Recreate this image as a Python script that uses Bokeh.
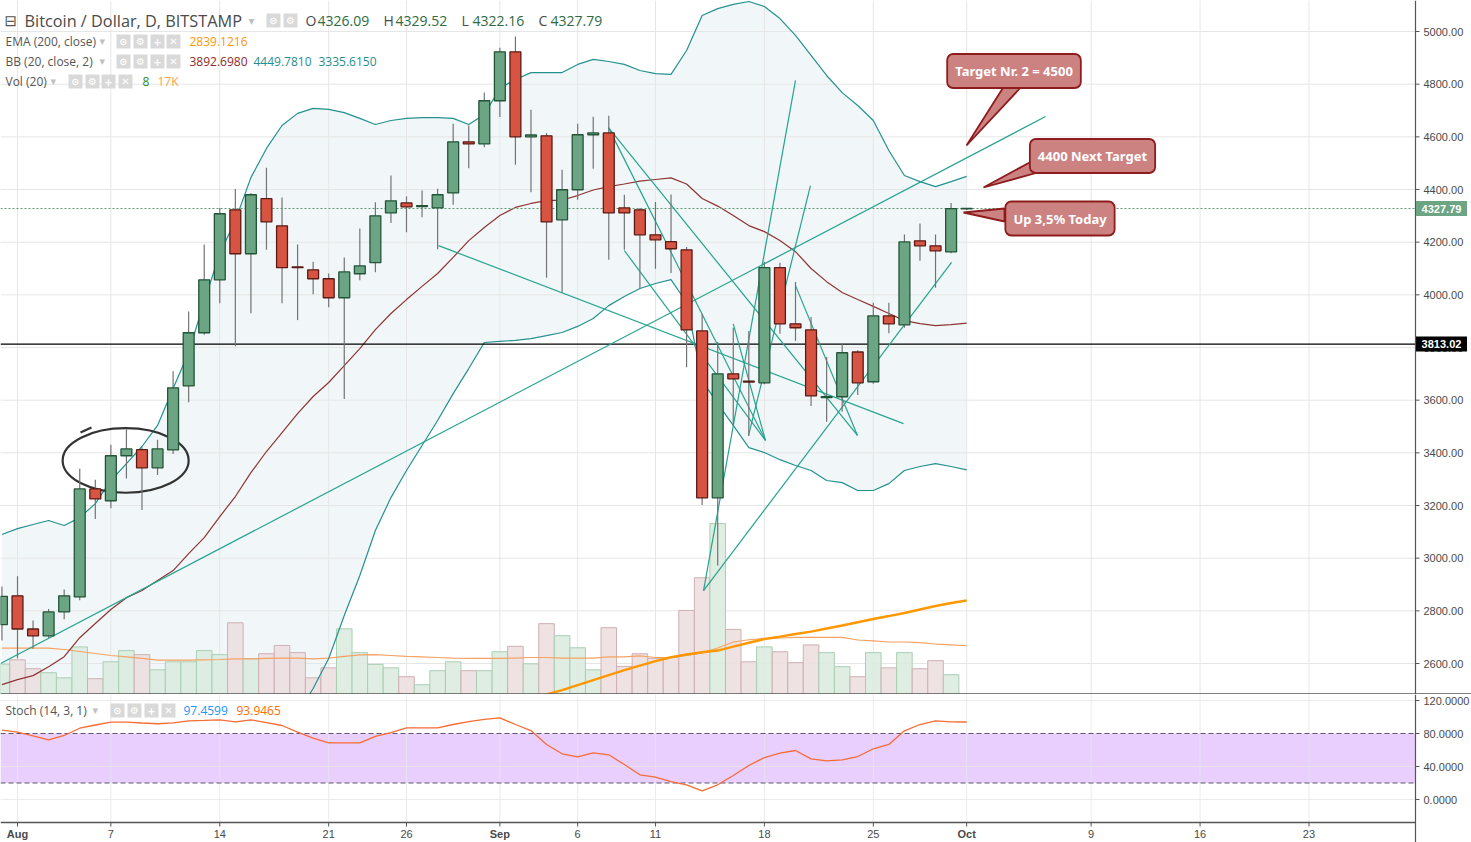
import numpy as np
import pandas as pd
from bokeh.plotting import figure
from bokeh.layouts import column
from bokeh.models import Range1d, Label
from bokeh.core.properties import value
from bokeh.embed import file_html
from bokeh.resources import INLINE

# ---------------- data ----------------
dates = pd.date_range("2017-07-31", "2017-10-01", freq="D")
opens = [2748, 2857, 2731, 2705, 2796, 2853, 3263, 3218, 3389, 3412, 3343, 3411, 3654, 3856, 4057, 4323,
         4156, 4365, 4262, 4106, 4095, 4061, 3989, 4080, 4122, 4311, 4349, 4335, 4330, 4387, 4581, 4573,
         4737, 4923, 4600, 4604, 4285, 4399, 4608, 4615, 4330, 4323, 4228, 4202, 4171, 3863, 3229, 3700,
         3672, 3666, 4103, 3890, 3867, 3610, 3613, 3783, 3670, 3920, 3886, 4205, 4186, 4163, 4326.09]
highs = [2892, 2931, 2763, 2807, 2881, 3340, 3298, 3431, 3491, 3420, 3450, 3710, 3937, 4191, 4330, 4402,
         4386, 4483, 4370, 4191, 4126, 4081, 4142, 4252, 4352, 4453, 4373, 4396, 4403, 4650, 4643, 4768,
         4938, 4981, 4703, 4615, 4475, 4650, 4676, 4680, 4380, 4330, 4353, 4381, 4182, 3927, 3821, 3875,
         3863, 4125, 4122, 4049, 3916, 3764, 3814, 3790, 3970, 3970, 4229, 4271, 4229, 4349, 4329.52]
lows = [2687, 2620, 2656, 2698, 2768, 2840, 3149, 3190, 3303, 3183, 3316, 3396, 3592, 3848, 3968, 3805,
        3930, 4171, 3968, 3904, 4002, 3953, 3604, 4055, 4086, 4273, 4238, 4295, 4173, 4342, 4481, 4560,
        4675, 4494, 4390, 4065, 4008, 4361, 4479, 4133, 4171, 4023, 4099, 4083, 3725, 3202, 2972, 3502,
        3464, 3660, 3852, 3825, 3578, 3518, 3556, 3620, 3662, 3854, 3875, 4129, 4027, 4158, 4322.16]
closes = [2855, 2731, 2705, 2796, 2857, 3263, 3225, 3389, 3415, 3343, 3415, 3647, 3856, 4057, 4308, 4156,
          4380, 4277, 4103, 4103, 4061, 3989, 4087, 4110, 4300, 4357, 4334, 4339, 4380, 4581, 4573, 4737,
          4923, 4600, 4607, 4277, 4399, 4608, 4615, 4311, 4311, 4228, 4209, 4175, 3867, 3229, 3700, 3681,
          3669, 4103, 3890, 3875, 3616, 3613, 3780, 3666, 3920, 3890, 4201, 4186, 4167, 4327, 4327.79]
volume_k = [10.6, 12.1, 9.0, 7.6, 5.8, 16.6, 5.5, 11.4, 15.3, 13.9, 8.6, 11.4, 11.4, 15.3, 13.9, 25.0,
            12.5, 14.2, 17.1, 14.6, 5.8, 9.3, 22.9, 14.6, 10.5, 9.3, 6.2, 3.4, 8.3, 11.4, 8.3, 8.3,
            14.9, 16.8, 10.7, 24.7, 20.5, 16.3, 8.6, 23.3, 9.8, 14.2, 12.6, 12.9, 29.3, 40.7, 59.6, 22.7,
            11.4, 16.6, 14.9, 11.1, 17.3, 14.6, 9.7, 6.2, 14.6, 9.3, 14.6, 9.0, 11.8, 6.9, 0.008]
vol_ma_k = [16.2, 16.2, 16.2, 16.2, 15.7, 15.0, 14.3, 13.6, 13.1, 12.6, 12.0, 12.0, 12.0, 12.1, 12.2, 12.4,
            12.4, 12.6, 12.7, 12.7, 12.4, 12.7, 13.3, 13.8, 13.9, 13.6, 13.3, 13.1, 12.9, 12.7, 12.6, 12.6,
            12.6, 12.7, 12.9, 12.9, 12.7, 12.7, 12.7, 13.1, 13.1, 13.5, 12.9, 12.9, 13.6, 14.5, 16.2, 18.3,
            19.1, 19.5, 19.7, 19.9, 19.9, 19.9, 19.9, 19.0, 18.7, 18.3, 18.3, 18.1, 17.6, 17.3, 17.0]
bb_mid = [2520, 2539, 2554, 2588, 2626, 2698, 2752, 2805, 2850, 2877, 2915, 2953, 3017, 3078, 3158, 3234,
          3325, 3405, 3477, 3549, 3614, 3667, 3731, 3796, 3868, 3929, 3982, 4032, 4081, 4142, 4206, 4256,
          4301, 4332, 4347, 4358, 4360, 4377, 4398, 4411, 4421, 4432, 4438, 4444, 4421, 4366, 4337, 4301,
          4263, 4240, 4206, 4164, 4100, 4050, 4009, 3982, 3956, 3929, 3902, 3891, 3883, 3887, 3892.698]
bb_up = [3090, 3112, 3128, 3143, 3124, 3154, 3207, 3295, 3359, 3424, 3504, 3644, 3781, 3975, 4157, 4282,
         4445, 4556, 4643, 4689, 4708, 4704, 4692, 4670, 4647, 4662, 4670, 4673, 4673, 4670, 4647, 4685,
         4784, 4818, 4844, 4844, 4844, 4875, 4894, 4886, 4875, 4852, 4840, 4837, 4928, 5061, 5087, 5103,
         5114, 5095, 5049, 4985, 4909, 4833, 4768, 4719, 4662, 4548, 4453, 4430, 4411, 4430, 4449.781]
bb_low = [1950, 1966, 1980, 2033, 2128, 2242, 2297, 2315, 2341, 2330, 2326, 2262, 2253, 2181, 2159, 2186,
          2205, 2254, 2311, 2409, 2505, 2619, 2782, 2934, 3105, 3230, 3333, 3428, 3523, 3625, 3720, 3819,
          3823, 3827, 3834, 3845, 3857, 3880, 3910, 3959, 3994, 4024, 4043, 4058, 3971, 3674, 3587, 3504,
          3420, 3401, 3374, 3352, 3333, 3295, 3287, 3257, 3257, 3283, 3333, 3348, 3359, 3348, 3335.615]
ema_dates = pd.date_range("2017-09-02", "2017-10-01", freq="D")
ema200 = [2441, 2463, 2482, 2499, 2518, 2537, 2556, 2575, 2592, 2609, 2624, 2634, 2643, 2649, 2664,
          2679, 2693, 2702, 2712, 2721, 2733, 2744, 2757, 2769, 2780, 2792, 2805, 2818, 2830, 2839.1216]
stoch_d = [84.2, 81.6, 77.0, 72.4, 77.6, 86.4, 90.3, 93.7, 93.7, 92.7, 91.8, 93.0, 95.4, 95.8, 96.6, 94.2,
           96.6, 93.3, 89.7, 81.6, 74.3, 68.7, 68.7, 68.7, 76.4, 81.2, 86.9, 86.9, 86.9, 90.9, 94.5, 97.0,
           99.0, 90.9, 83.6, 66.7, 55.4, 51.8, 56.6, 54.2, 42.4, 29.9, 27.0, 21.8, 17.8, 10.5, 17.8, 29.1,
           41.2, 50.9, 56.1, 59.4, 49.3, 46.9, 48.1, 52.1, 61.5, 66.7, 83.3, 90.9, 95.4, 94.2, 93.9465]
stoch_k_last = 97.4599
vol_last = 8
vol_ma_label = "17K"

# hand drawn trend lines: (day offset from Aug 1, price) start / end
line_d0 = [-1.09, 27.06, 44.09, 44.09, 37.98, 37.98, 39.0, 50.0, 46.98, 46.0]
line_p0 = [2600, 4187, 2877, 2877, 4635, 4635, 4168, 4035, 3466, 3890]
line_d1 = [66.07, 56.94, 60.03, 50.0, 48.07, 53.98, 48.07, 53.98, 50.96, 48.07]
line_p1 = [4677, 3511, 4123, 4814, 3447, 3466, 3447, 3466, 4415, 3447]

# hand drawn circle around Aug 6-10 (centre day, centre price, width in days, height in USD)
circle_day, circle_price, circle_w, circle_h = 6.95, 3371, 8.1, 245

hline_last = 4327.79
hline_level = 3813.02

x_ticks = [0, 6, 13, 20, 25, 31, 36, 41, 48, 55, 61, 69, 76, 83]
x_tick_labels = ["Aug", "7", "14", "21", "26", "Sep", "6", "11", "18", "25", "Oct", "9", "16", "23"]
price_ticks = [2600, 2800, 3000, 3200, 3400, 3600, 3800, 4000, 4200, 4400, 4600, 4800, 5000]
stoch_ticks = [0, 40, 80, 120]
stoch_band = (20, 80)

callout_texts = ["Target Nr. 2 = 4500", "4400 Next Target", "Up 3,5% Today"]

# ---------------- geometry helpers (layout only) ----------------
ref = pd.Timestamp("2017-08-01")
day = np.array([(d - ref).days for d in dates], dtype=float)
ema_day = np.array([(d - ref).days for d in ema_dates], dtype=float)

PX_DAY = 15.56
X_AUG1 = 17.0
W = 1471
AXIS_X = 1415
PX_USD = 632.0 / 2400.0
MAIN_H = 694
STOCH_H = 148


def dx(px):
    return (px - X_AUG1) / PX_DAY


def dp(py):
    return 5000 - (py - 31) / PX_USD


def ds(py):
    return (799 - py) / 0.825


x_lo, x_ax, x_hi = dx(0), dx(AXIS_X), dx(W)

GRID = "#e6e6e6"
AXIS_COL = "#555555"
AXIS_TXT = "#4a4a4a"
TXT_FONT = "Open Sans"
AX_FONT = "Liberation Sans"


def make_fig(h, yr):
    f = figure(frame_width=W, frame_height=h, x_range=Range1d(x_lo, x_hi), y_range=yr,
               x_axis_location=None, y_axis_location=None,
               output_backend="svg", toolbar_location=None,
               min_border_left=0, min_border_right=0, min_border_top=0, min_border_bottom=0,
               outline_line_color=None, background_fill_color="white")
    f.xgrid.grid_line_color = None
    f.ygrid.grid_line_color = None
    return f


# ---------------- main price panel ----------------
p = make_fig(MAIN_H, Range1d(dp(MAIN_H), dp(0)))
p.extra_y_ranges = {"vol": Range1d(0, 242)}

# Bollinger fill
p.varea(x=day, y1=bb_low, y2=bb_up, fill_color="#f1f7f8", fill_alpha=1.0)

# grid
p.segment(x0=x_ticks, y0=dp(MAIN_H), x1=x_ticks, y1=dp(0), line_color=GRID, line_width=1)
p.segment(x0=x_lo, y0=price_ticks, x1=x_ax, y1=price_ticks, line_color=GRID, line_width=1)

# volume
up = np.array(closes) >= np.array(opens)
vol_fill = ["#dcebe0" if u else "#ecdfe0" for u in up]
vol_line = ["#a9cfb4" if u else "#cfb0b3" for u in up]
p.vbar(x=day, top=volume_k, bottom=0, width=1.0, fill_color=vol_fill, line_color=vol_line,
       line_width=1, fill_alpha=0.9, y_range_name="vol")
p.line(day, vol_ma_k, line_color="#f7a263", line_width=1.2, y_range_name="vol")

# EMA 200
p.line(ema_day, ema200, line_color="#ff9800", line_width=2.5)

# Bollinger lines
p.line(day, bb_up, line_color="#24918f", line_width=1.2)
p.line(day, bb_low, line_color="#24918f", line_width=1.2)
p.line(day, bb_mid, line_color="#8e3434", line_width=1.2)

# horizontal price lines
p.segment(x0=x_lo, y0=hline_last, x1=x_ax, y1=hline_last, line_color="#5a9a74", line_dash="2 2", line_width=1)
p.segment(x0=x_lo, y0=hline_level, x1=x_ax, y1=hline_level, line_color="black", line_width=1.2)

# trend lines
p.segment(x0=line_d0, y0=line_p0, x1=line_d1, y1=line_p1, line_color="#25a38d", line_width=1.2)

# circle drawing
p.ellipse(x=[circle_day], y=[circle_price], width=[circle_w], height=[circle_h],
          fill_alpha=0, line_color="#333333", line_width=2.2)
p.line(x=[dx(80), dx(91)], y=[dp(432), dp(427)], line_color="#333333", line_width=2.2)

# candles
body_top = np.maximum(opens, closes)
body_bot = np.minimum(opens, closes)
p.segment(x0=day, y0=lows, x1=day, y1=highs, line_color="#737375", line_width=1.2)
c_fill = ["#6ba583" if u else "#d75442" for u in up]
c_line = ["#225437" if u else "#5b1a13" for u in up]
p.vbar(x=day, top=body_top, bottom=body_bot, width=0.7, fill_color=c_fill, line_color=c_line, line_width=1.3)

# price axis (right)
p.segment(x0=x_ax, y0=dp(MAIN_H), x1=x_ax, y1=dp(0), line_color=AXIS_COL, line_width=1.2)
p.segment(x0=x_ax, y0=price_ticks, x1=dx(AXIS_X + 4), y1=price_ticks, line_color=AXIS_COL, line_width=1)
p.text(x=dx(AXIS_X + 8), y=price_ticks, text=[f"{t:.2f}" for t in price_ticks], text_color=AXIS_TXT,
       text_font=value(AX_FONT), text_font_size=value("11px"), text_baseline="middle", text_align="left")
# price tags
p.rect(x=dx(AXIS_X + 26), y=[hline_last, hline_level], width=51, height=15, width_units="screen",
       height_units="screen", fill_color=["#6ba583", "black"], line_color=None)
p.text(x=dx(AXIS_X + 26), y=[hline_last, hline_level], text=[f"{hline_last:.2f}", f"{hline_level:.2f}"],
       text_color="white", text_font=value(AX_FONT), text_font_size=value("11px"), text_font_style="bold",
       text_baseline="middle", text_align="center")
# panel separator
p.segment(x0=x_lo, y0=dp(MAIN_H - 0.6), x1=x_hi, y1=dp(MAIN_H - 0.6), line_color=AXIS_COL, line_width=1.3)

# callouts
CALL_FILL = "#cd8282"
CALL_LINE = "#8e1c1c"
ptr_x = [[dx(1004), dx(1022), dx(966)], [dx(1031), dx(1041), dx(983)], [dx(1004), dx(1004), dx(963)]]
ptr_y = [[dp(85), dp(85), dp(145)], [dp(161), dp(171), dp(187)], [dp(208), dp(221), dp(212)]]
p.patches(xs=ptr_x, ys=ptr_y, fill_color=CALL_FILL, line_color=CALL_LINE, line_width=1.8)
box_c = [(1013.5, 70.5), (1092, 155.5), (1059.5, 218)]
for (bx, by), t in zip(box_c, callout_texts):
    p.add_layout(Label(x=dx(bx), y=dp(by), text=t, text_align="center", text_baseline="middle",
                       text_color="white", text_font="Noto Sans", text_font_size="13px",
                       text_font_style="bold", background_fill_color=CALL_FILL,
                       border_line_color=CALL_LINE, border_line_width=1.8, padding=8, border_radius=6))


# header / legend texts
def add_texts(fig, px_list, py, texts, colors, yconv, size="12px", font=TXT_FONT, style="normal", align="left"):
    fig.text(x=[dx(v) for v in px_list], y=[yconv(py)] * len(px_list), text=texts, text_color=colors,
             text_font=value(font), text_font_size=value(size), text_font_style=style,
             text_baseline="middle", text_align=align)


def add_icons(fig, centers, py, yconv, glyphs):
    fig.rect(x=[dx(c) for c in centers], y=[yconv(py)] * len(centers), width=14, height=14,
             width_units="screen", height_units="screen", fill_color="#d9d9d9", line_color=None)
    fig.text(x=[dx(c) for c in centers], y=[yconv(py)] * len(centers), text=glyphs, text_color="white",
             text_font=value("DejaVu Sans"), text_font_size=value("10px"), text_font_style="bold",
             text_align="center", text_baseline="middle")


ICON4 = ["\u2299", "\u2699", "+", "\u2715"]
# row 1
add_texts(p, [4], 20, ["\u229f"], ["#555555"], dp, size="15px", font="DejaVu Sans")
add_texts(p, [24], 20, ["Bitcoin / Dollar, D, BITSTAMP"], ["#4a4a4a"], dp, size="16.3px")
add_texts(p, [248], 20, ["\u25be"], ["#c0c0c0"], dp, size="12px", font="DejaVu Sans")
add_icons(p, [273, 290], 20, dp, ICON4[:2])
add_texts(p, [305, 383, 461, 538], 20, ["O", "H", "L", "C"], ["#4a4a4a"] * 4, dp, size="14px")
add_texts(p, [317, 395, 472, 550], 20,
          [f"{opens[-1]:.2f}", f"{highs[-1]:.2f}", f"{lows[-1]:.2f}", f"{closes[-1]:.2f}"],
          ["#2d6b44"] * 4, dp, size="14px")
# row 2
add_texts(p, [5], 41, ["EMA (200, close)"], ["#555555"], dp)
add_texts(p, [99], 41, ["\u25be"], ["#c0c0c0"], dp, size="11px", font="DejaVu Sans")
add_icons(p, [123, 140, 157, 173], 41, dp, ICON4)
add_texts(p, [189], 41, [f"{ema200[-1]:.4f}"], ["#ff9800"], dp)
# row 3
add_texts(p, [5], 61, ["BB (20, close, 2)"], ["#555555"], dp)
add_texts(p, [99], 61, ["\u25be"], ["#c0c0c0"], dp, size="11px", font="DejaVu Sans")
add_icons(p, [123, 140, 157, 173], 61, dp, ICON4)
add_texts(p, [189, 253, 318], 61, [f"{bb_mid[-1]:.4f}", f"{bb_up[-1]:.4f}", f"{bb_low[-1]:.4f}"],
          ["#8e2a2a", "#1f8e8e", "#1f8e8e"], dp)
# row 4
add_texts(p, [5], 81, ["Vol (20)"], ["#555555"], dp)
add_texts(p, [50], 81, ["\u25be"], ["#c0c0c0"], dp, size="11px", font="DejaVu Sans")
add_icons(p, [75, 92, 108, 125], 81, dp, ICON4)
add_texts(p, [142, 157], 81, [str(vol_last), vol_ma_label], ["#1e8c1e", "#ff9f4a"], dp)

# ---------------- stochastic panel ----------------
p2 = make_fig(STOCH_H, Range1d(ds(MAIN_H + STOCH_H), ds(MAIN_H)))
AX_Y = 822
p2.quad(left=x_lo, right=x_ax, bottom=stoch_band[0], top=stoch_band[1], fill_color="#e9cffd", line_color=None)
p2.segment(x0=x_ticks, y0=ds(AX_Y), x1=x_ticks, y1=ds(MAIN_H), line_color=GRID, line_width=1, line_alpha=0.8)
p2.segment(x0=x_lo, y0=[0, 40, 120], x1=x_ax, y1=[0, 40, 120], line_color=GRID, line_width=1, line_alpha=0.8)
p2.segment(x0=x_lo, y0=list(stoch_band), x1=x_ax, y1=list(stoch_band), line_color="#5d5670",
           line_dash="5 3", line_width=1.2)
p2.line(day, stoch_d, line_color="#f76b35", line_width=1.3)

# stoch price axis
p2.segment(x0=x_ax, y0=ds(MAIN_H + STOCH_H), x1=x_ax, y1=ds(MAIN_H), line_color=AXIS_COL, line_width=1.2)
p2.segment(x0=x_ax, y0=stoch_ticks, x1=dx(AXIS_X + 4), y1=stoch_ticks, line_color=AXIS_COL, line_width=1)
p2.text(x=dx(AXIS_X + 8), y=stoch_ticks, text=[f"{t:.4f}" for t in stoch_ticks], text_color=AXIS_TXT,
        text_font=value(AX_FONT), text_font_size=value("11px"), text_baseline="middle", text_align="left")
# time axis
p2.segment(x0=x_lo, y0=ds(AX_Y), x1=x_ax, y1=ds(AX_Y), line_color=AXIS_COL, line_width=1.3)
p2.segment(x0=x_ticks, y0=ds(AX_Y), x1=x_ticks, y1=ds(AX_Y + 4), line_color=AXIS_COL, line_width=1)
is_month = [not l.isdigit() for l in x_tick_labels]
p2.text(x=[t for t, m in zip(x_ticks, is_month) if m], y=ds(AX_Y + 11),
        text=[l for l, m in zip(x_tick_labels, is_month) if m], text_color=AXIS_TXT,
        text_font=value(AX_FONT), text_font_size=value("11px"), text_font_style="bold",
        text_baseline="middle", text_align="center")
p2.text(x=[t for t, m in zip(x_ticks, is_month) if not m], y=ds(AX_Y + 11),
        text=[l for l, m in zip(x_tick_labels, is_month) if not m], text_color=AXIS_TXT,
        text_font=value(AX_FONT), text_font_size=value("11px"),
        text_baseline="middle", text_align="center")

add_texts(p2, [5], 710, ["Stoch (14, 3, 1)"], ["#555555"], ds)
add_texts(p2, [92], 710, ["\u25be"], ["#c0c0c0"], ds, size="11px", font="DejaVu Sans")
add_icons(p2, [117, 134, 151, 168], 710, ds, ICON4)
add_texts(p2, [183, 236], 710, [f"{stoch_k_last:.4f}", f"{stoch_d[-1]:.4f}"], ["#2196f3", "#ff6d00"], ds)

layout = column(p, p2, spacing=0)
open("out.html", "w").write(file_html(layout, INLINE))
